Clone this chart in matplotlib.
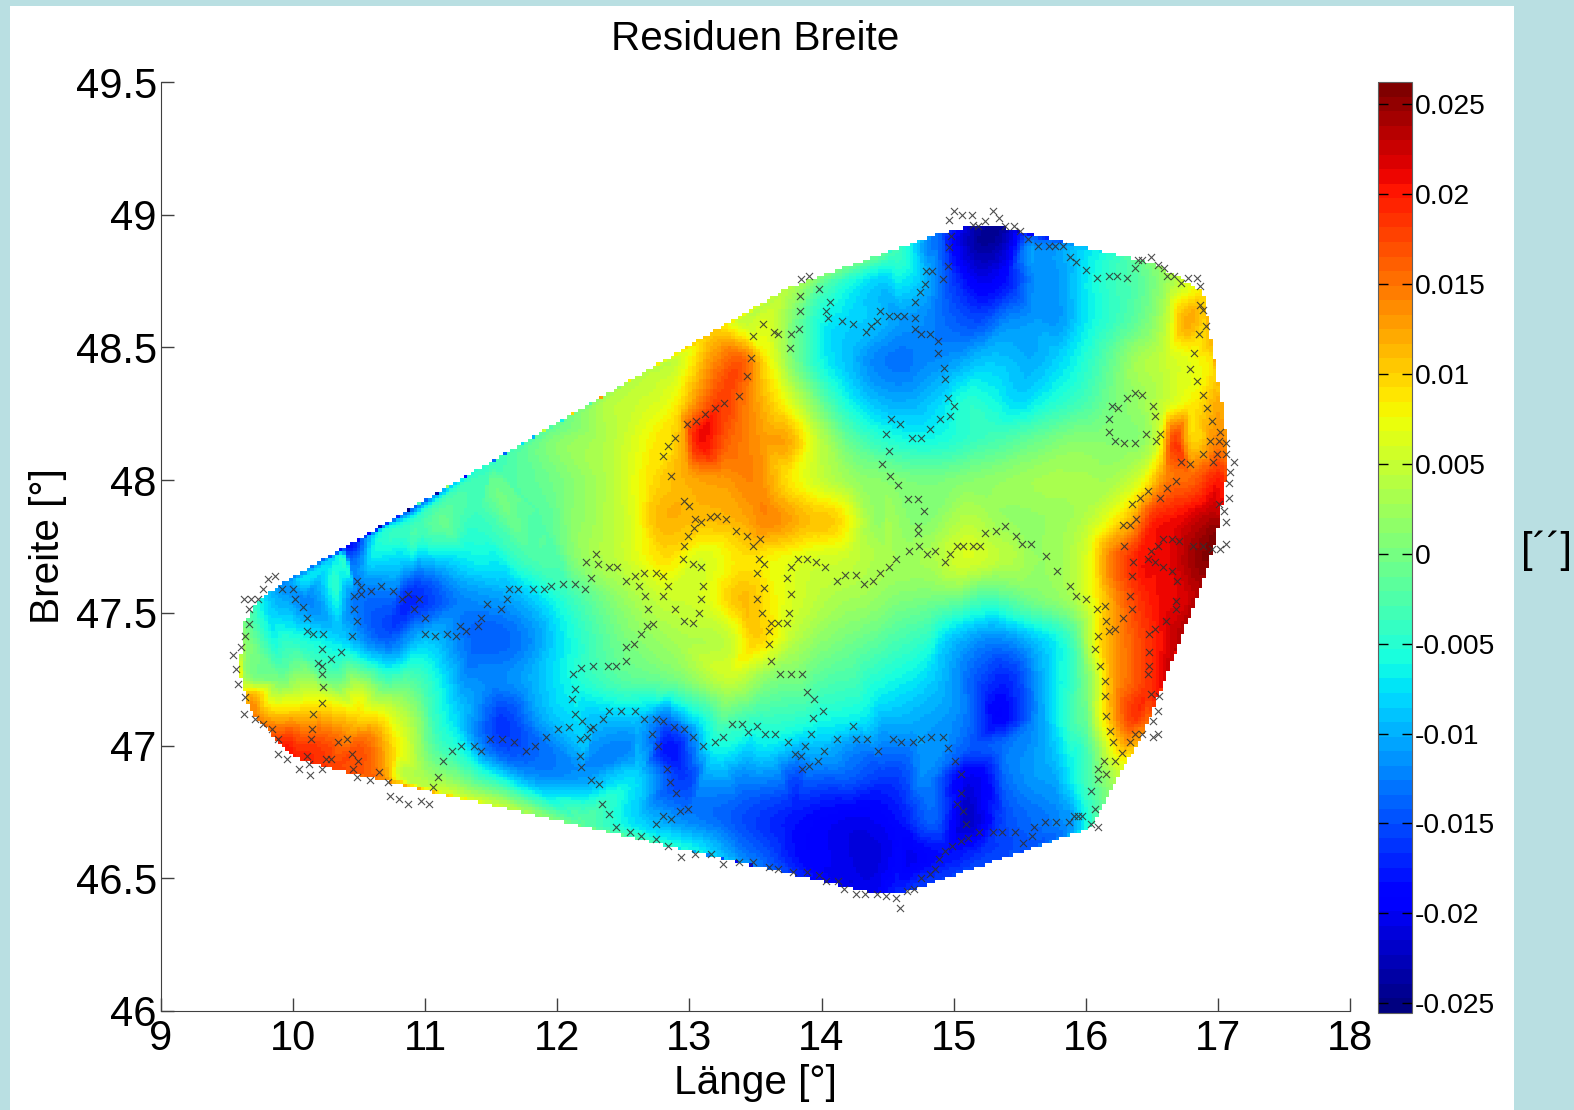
import numpy as np
import matplotlib
matplotlib.use('Agg')
import matplotlib.pyplot as plt
import matplotlib.tri as mtri
from matplotlib.patches import Rectangle

plt.rcParams['font.family'] = ['Liberation Sans', 'DejaVu Sans']

# stations (x marks), lon / lat in degrees
west_lon = [9.865, 9.81, 9.772, 9.918, 9.996, 9.626, 9.679, 9.732, 9.663, 10.014, 10.072, 9.663,
            10.102, 10.102, 10.15, 10.229, 9.636, 9.605, 9.547, 9.568, 9.585, 9.636, 9.626, 9.714,
            9.772, 9.84, 9.888, 9.888, 9.956, 10.044, 10.13, 10.123, 10.102, 10.221, 10.249, 10.287,
            10.133, 10.143, 10.153, 10.221, 10.229, 10.221, 10.221, 10.191, 10.287, 10.365, 10.221, 10.443,
            10.483, 10.463, 10.463, 10.511, 10.511, 10.483, 10.589, 10.668, 10.756, 10.824, 10.872, 10.95,
            10.912, 10.998, 11.001, 11.076, 11.165, 11.233, 11.263, 11.311, 11.399, 11.419, 11.468, 11.574,
            11.622, 11.632, 11.7, 11.818, 11.897, 11.955, 12.043, 12.131, 12.209, 12.257, 12.217, 12.295,
            12.305, 12.391, 12.449, 12.52, 12.588, 12.656, 12.744, 12.802, 12.618, 12.84, 12.666, 12.802,
            12.686, 12.891, 12.724, 12.676, 12.636, 12.578, 12.52, 12.52, 12.442, 12.384, 12.268, 12.179,
            12.121, 12.131, 12.111, 12.131, 12.189, 12.268, 12.247, 12.227, 12.169, 12.091, 12.003, 11.917,
            11.828, 11.76, 11.672, 11.584, 11.488, 11.42, 11.369, 11.273, 11.205, 11.137, 11.097, 11.059,
            11.029, 10.97, 10.872, 10.804, 10.736, 10.718, 10.648, 10.582, 10.483, 10.453, 10.494, 10.443,
            10.405, 10.337]
west_lat = [47.639, 47.629, 47.591, 47.591, 47.591, 47.552, 47.552, 47.552, 47.513, 47.552, 47.523, 47.459,
            47.479, 47.43, 47.42, 47.42, 47.411, 47.372, 47.343, 47.289, 47.232, 47.183, 47.12, 47.1,
            47.081, 47.062, 47.023, 46.969, 46.95, 46.911, 46.891, 46.931, 46.96, 46.911, 46.95, 46.95,
            47.023, 47.062, 47.12, 47.159, 47.222, 47.271, 47.3, 47.31, 47.328, 47.354, 47.364, 47.411,
            47.469, 47.513, 47.562, 47.571, 47.598, 47.62, 47.581, 47.6, 47.581, 47.552, 47.571, 47.552,
            47.513, 47.479, 47.42, 47.411, 47.42, 47.411, 47.45, 47.43, 47.45, 47.479, 47.532, 47.513,
            47.552, 47.591, 47.591, 47.591, 47.591, 47.6, 47.61, 47.61, 47.591, 47.63, 47.693, 47.722,
            47.683, 47.673, 47.673, 47.62, 47.639, 47.649, 47.649, 47.639, 47.6, 47.6, 47.562, 47.562,
            47.513, 47.513, 47.459, 47.45, 47.42, 47.382, 47.372, 47.32, 47.3, 47.3, 47.3, 47.291,
            47.271, 47.213, 47.174, 47.12, 47.091, 47.071, 47.062, 47.033, 47.023, 47.071, 47.062, 47.033,
            46.999, 46.979, 47.013, 47.023, 47.023, 46.979, 46.999, 46.999, 46.979, 46.94, 46.883, 46.844,
            46.781, 46.791, 46.781, 46.8, 46.81, 46.862, 46.901, 46.872, 46.883, 46.911, 46.94, 46.969,
            47.023, 47.013]

south_lon = [12.394, 12.482, 12.588, 12.656, 12.744, 12.802, 12.881, 12.959, 13.03, 12.346, 12.714, 12.765,
             12.833, 12.85, 12.901, 12.987, 12.928, 12.86, 12.802, 12.744, 12.335, 12.394, 12.315, 12.257,
             12.179, 12.169, 12.442, 12.55, 12.636, 12.744, 12.84, 12.939, 13.045, 14.594]
south_lat = [47.129, 47.129, 47.129, 47.1, 47.1, 47.091, 47.071, 47.062, 47.033, 47.1, 47.042, 46.999,
             46.911, 46.862, 46.82, 46.762, 46.752, 46.723, 46.733, 46.704, 46.781, 46.742, 46.854, 46.872,
             46.921, 46.96, 46.694, 46.674, 46.659, 46.649, 46.62, 46.581, 46.591, 46.388]

centre_lon = [12.959, 13.0, 13.039, 13.085, 13.037, 12.989, 12.959, 12.949, 13.027, 13.085, 13.105, 13.085,
              13.075, 13.027, 12.959, 13.156, 13.211, 13.279, 13.35, 13.438, 13.534, 13.484, 13.524, 13.564,
              13.514, 13.564, 13.514, 13.552, 13.62, 13.67, 13.738, 13.602, 13.602, 13.62, 13.688, 13.766,
              13.854, 13.892, 13.943, 14.011, 13.933, 13.923, 13.875, 14.021, 13.796, 13.844, 13.971, 13.902,
              13.854, 13.748, 13.65, 13.572, 13.514, 13.446, 13.398, 13.32, 13.251, 13.191, 13.105, 13.738,
              13.766, 13.756, 13.766, 13.824, 13.892, 13.96, 14.029, 14.117, 14.175, 14.263, 14.321, 14.389,
              14.44, 14.508, 14.566, 14.662, 14.74, 14.798, 14.856, 14.934, 14.972, 15.023, 15.071, 15.149,
              15.197, 15.237, 15.323, 15.391, 15.469, 15.517, 15.585, 15.696, 15.78, 14.733, 14.733, 14.235,
              14.119, 14.263, 14.341, 14.43, 14.538, 14.604, 14.692, 14.75, 14.829, 14.917, 14.955, 15.013,
              15.053, 15.053, 15.023, 15.071, 15.091, 15.189, 15.295, 15.111, 15.053, 14.985, 14.934, 14.886,
              14.856, 14.818, 14.75, 14.702, 14.644, 14.566, 14.488, 14.42, 14.331, 14.263, 14.167, 14.127,
              14.031, 13.981, 13.892, 13.786, 13.67, 13.602, 13.484, 13.378, 13.251, 13.163]
centre_lat = [47.922, 47.903, 47.854, 47.844, 47.819, 47.79, 47.751, 47.703, 47.683, 47.674, 47.602, 47.553,
              47.499, 47.461, 47.471, 47.863, 47.865, 47.854, 47.81, 47.79, 47.78, 47.751, 47.703, 47.683,
              47.649, 47.592, 47.553, 47.499, 47.461, 47.461, 47.461, 47.431, 47.383, 47.32, 47.271, 47.271,
              47.271, 47.203, 47.175, 47.131, 47.102, 47.043, 46.999, 46.98, 46.97, 46.961, 46.941, 46.922,
              46.912, 47.014, 47.043, 47.043, 47.072, 47.053, 47.082, 47.082, 47.034, 47.014, 46.999, 47.63,
              47.571, 47.499, 47.674, 47.703, 47.703, 47.693, 47.674, 47.62, 47.641, 47.641, 47.61, 47.62,
              47.649, 47.674, 47.703, 47.732, 47.751, 47.722, 47.732, 47.693, 47.722, 47.751, 47.751, 47.751,
              47.751, 47.8, 47.81, 47.829, 47.79, 47.761, 47.761, 47.713, 47.659, 47.8, 47.829, 47.072,
              47.024, 47.024, 47.024, 46.98, 47.024, 47.014, 47.014, 47.024, 47.034, 47.034, 46.99, 46.941,
              46.893, 46.82, 46.781, 46.753, 46.704, 46.675, 46.675, 46.65, 46.641, 46.621, 46.602, 46.573,
              46.534, 46.515, 46.5, 46.461, 46.451, 46.427, 46.432, 46.442, 46.442, 46.442, 46.461, 46.49,
              46.49, 46.514, 46.524, 46.524, 46.534, 46.544, 46.563, 46.563, 46.553, 46.592]

north_lon = [14.965, 15.006, 15.064, 15.142, 15.298, 15.346, 15.24, 15.182, 15.15, 15.387, 15.455, 15.505,
             15.561, 14.978, 14.968, 14.958, 14.917, 14.791, 14.839, 14.781, 14.743, 14.705, 14.705, 14.705,
             14.753, 14.821, 14.879, 14.879, 14.927, 14.937, 14.958, 15.005, 14.975, 14.899, 14.821, 14.753,
             14.685, 14.597, 14.529, 14.491, 14.508, 14.46, 14.518, 14.577, 14.655, 14.733, 14.773, 14.627,
             14.569, 14.508, 14.44, 14.423, 14.372, 14.334, 14.236, 14.158, 14.052, 14.031, 14.062, 13.984,
             13.905, 13.847, 13.837, 13.837, 13.827, 13.769, 13.759, 13.671, 13.643, 13.555, 13.484, 13.466,
             13.436, 13.378, 13.262, 13.194, 13.116, 13.047, 12.979, 12.891, 12.84, 12.803, 12.861]
north_lat = [48.979, 49.014, 48.998, 48.998, 49.014, 48.987, 48.977, 48.959, 48.96, 48.959, 48.959, 48.94,
             48.91, 48.92, 48.88, 48.807, 48.759, 48.788, 48.788, 48.739, 48.71, 48.672, 48.609, 48.57,
             48.552, 48.552, 48.523, 48.479, 48.421, 48.382, 48.309, 48.28, 48.241, 48.231, 48.192, 48.159,
             48.159, 48.213, 48.231, 48.174, 48.111, 48.062, 48.014, 47.98, 47.93, 47.93, 47.882, 48.62,
             48.62, 48.62, 48.638, 48.599, 48.581, 48.56, 48.589, 48.599, 48.609, 48.638, 48.672, 48.721,
             48.769, 48.759, 48.692, 48.638, 48.57, 48.552, 48.498, 48.552, 48.56, 48.589, 48.542, 48.459,
             48.391, 48.318, 48.289, 48.27, 48.251, 48.223, 48.213, 48.159, 48.13, 48.091, 48.014]

east_lon = [15.642, 15.725, 15.767, 15.828, 15.883, 15.925, 16.0, 16.088, 16.174, 16.235, 16.312, 16.371,
            16.398, 16.426, 16.495, 16.548, 16.595, 16.614, 16.67, 16.723, 16.77, 16.839, 16.867, 16.867,
            16.889, 16.908, 16.858, 16.82, 16.789, 16.839, 16.889, 16.917, 16.955, 17.014, 16.944, 17.005,
            17.063, 16.889, 16.994, 17.063, 17.122, 16.966, 17.091, 17.083, 17.083, 17.005, 17.044, 17.063,
            17.063, 17.014, 16.955, 16.889, 16.808, 16.723, 16.789, 16.684, 16.614, 16.565, 16.468, 16.409,
            16.351, 16.379, 16.337, 16.285, 16.293, 16.36, 16.351, 16.332, 16.351, 16.285, 16.221, 16.174,
            16.155, 16.146, 16.088, 16.0, 15.925, 15.883, 16.096, 16.069, 16.107, 16.146, 16.146, 16.476,
            16.526, 16.606, 16.684, 16.684, 16.476, 16.476, 16.468, 16.495, 16.556, 16.468, 16.495, 16.545,
            16.584, 16.653, 16.703, 16.526, 16.584, 16.653, 16.692, 16.177, 16.177, 16.224, 16.293, 16.371,
            16.457, 16.529, 16.565, 16.526, 16.506, 16.429, 16.371, 16.312, 16.243, 16.196]
east_lat = [48.883, 48.883, 48.883, 48.883, 48.842, 48.82, 48.79, 48.761, 48.77, 48.77, 48.761, 48.8,
            48.829, 48.829, 48.842, 48.81, 48.8, 48.77, 48.77, 48.741, 48.761, 48.761, 48.732, 48.659,
            48.64, 48.581, 48.552, 48.479, 48.42, 48.373, 48.319, 48.271, 48.222, 48.183, 48.149, 48.149,
            48.139, 48.1, 48.1, 48.1, 48.07, 48.07, 48.032, 47.99, 47.931, 47.912, 47.883, 47.844,
            47.761, 47.742, 47.742, 47.751, 47.751, 48.07, 48.061, 47.998, 47.97, 47.931, 47.96, 47.931,
            47.912, 47.853, 47.83, 47.83, 47.751, 47.693, 47.639, 47.563, 47.514, 47.48, 47.441, 47.431,
            47.47, 47.524, 47.514, 47.553, 47.563, 47.602, 47.412, 47.363, 47.3, 47.242, 47.185, 47.422,
            47.441, 47.47, 47.514, 47.543, 47.354, 47.3, 47.271, 47.193, 47.185, 47.703, 47.732, 47.751,
            47.78, 47.78, 47.771, 47.693, 47.674, 47.659, 47.62, 48.232, 48.183, 48.149, 48.139, 48.139,
            48.173, 48.149, 48.173, 48.241, 48.28, 48.319, 48.329, 48.309, 48.271, 48.28]

southeast_lon = [16.156, 16.186, 16.206, 16.333, 16.37, 16.428, 16.545, 16.507, 16.507, 16.545, 16.272, 16.224,
                 16.136, 16.095, 16.156, 16.095, 16.04, 16.068, 15.972, 15.914, 15.944, 15.873, 15.777, 15.689,
                 15.611, 15.591, 15.523, 15.465, 15.369, 16.037, 16.095]
southeast_lat = [47.111, 47.054, 47.015, 47.015, 47.044, 47.044, 47.13, 47.092, 47.033, 47.044, 46.971, 46.942,
                 46.942, 46.913, 46.893, 46.874, 46.83, 46.762, 46.733, 46.733, 46.733, 46.713, 46.713, 46.713,
                 46.694, 46.66, 46.632, 46.674, 46.674, 46.704, 46.694]

# residuals: outline of the covered area
edge_lon = [9.593, 9.623, 9.737, 9.938, 10.4, 10.9, 11.011, 11.5, 12.0, 12.626, 13.2, 13.736, 13.989, 14.594, 14.897,
            15.124, 15.376, 15.629, 15.988, 16.293, 16.515, 16.889, 16.944, 17.041, 17.083, 17.041, 16.986, 16.875,
            16.681, 16.57, 16.449, 16.234, 16.095, 16.032, 15.894, 15.401, 14.568, 14.392, 13.534, 13.045, 12.2, 11.6,
            11.213, 10.708, 10.279, 10.0, 9.863, 9.673]
edge_lat = [47.272, 47.46, 47.548, 47.617, 47.75, 47.893, 47.925, 48.067, 48.21, 48.396, 48.565, 48.722, 48.769, 48.873, 48.93,
            48.955, 48.952, 48.911, 48.868, 48.83, 48.817, 48.711, 48.516, 48.252, 48.101, 47.938, 47.775, 47.599,
            47.398, 47.219, 47.059, 46.883, 46.763, 46.688, 46.682, 46.581, 46.437, 46.444, 46.557, 46.6, 46.698, 46.768,
            46.813, 46.876, 46.914, 46.958, 47.027, 47.134]
edge_val = [0.009, 0.0, -0.005, -0.012, -0.019, -0.014, -0.012, -0.004, -0.001, 0.004, 0.01, 0.004, 0.001, -0.004, -0.014,
            -0.022, -0.024, -0.014, -0.008, -0.003, 0.001, 0.009, 0.011, 0.012, 0.014, 0.02, 0.026, 0.024,
            0.023, 0.021, 0.014, 0.004, -0.002, -0.004, -0.011, -0.015, -0.017, -0.02, -0.013, -0.006, -0.002, 0.005,
            0.006, 0.013, 0.018, 0.02, 0.018, 0.014]

# residuals inside the area, one list per latitude
row_lat = [48.9, 48.75, 48.6, 48.45, 48.3, 48.15, 48.0, 47.9, 47.85, 47.8, 47.72, 47.7, 47.62, 47.55, 47.4, 47.25, 47.18, 47.1, 47.0, 46.88, 46.72, 46.58]
row_lon = [
    [14.8, 15.0, 15.2, 15.4, 15.6],
    [14.0, 14.4, 14.8, 15.0, 15.2, 15.4, 15.6, 15.8, 16.0, 16.2, 16.4, 16.6],
    [13.4, 13.6, 13.8, 14.0, 14.2, 14.4, 14.6, 14.8, 15.0, 15.2, 15.4, 15.6, 15.8, 16.0, 16.2, 16.4, 16.6, 16.75, 16.9],
    [12.9, 13.2, 13.4, 13.6, 13.8, 14.0, 14.2, 14.4, 14.6, 14.8, 15.0, 15.2, 15.4, 15.6, 15.8, 16.0, 16.2, 16.4, 16.6, 16.8, 16.95],
    [12.4, 12.6, 12.9, 13.1, 13.25, 13.45, 13.7, 13.9, 14.1, 14.3, 14.5, 14.7, 14.9, 15.1, 15.3, 15.5, 15.7, 16.0, 16.2, 16.4, 16.6, 16.8, 17.0],
    [12.0, 12.4, 12.7, 12.95, 13.05, 13.3, 13.55, 13.75, 14.0, 14.25, 14.5, 14.8, 15.0, 15.3, 15.6, 15.9, 16.1, 16.25, 16.45, 16.55, 16.67, 16.8, 17.0],
    [11.5, 12.0, 12.4, 12.7, 13.0, 13.25, 13.5, 13.75, 14.0, 14.25, 14.5, 14.8, 15.1, 15.4, 15.7, 16.0, 16.2, 16.4, 16.6, 16.8, 17.0],
    [11.05],
    [10.9, 11.4, 11.9, 12.3, 12.55, 12.75, 13.1, 13.4, 13.6, 13.9, 14.1, 14.4, 14.8, 15.1, 15.4, 15.7, 16.0, 16.2, 16.35, 16.5, 16.7, 16.95],
    [10.65],
    [10.35],
    [10.3, 10.8, 11.3, 11.8, 12.2, 12.5, 12.8, 13.1, 13.4, 13.6, 13.9, 14.2, 14.5, 14.8, 15.1, 15.4, 15.7, 16.0, 16.2, 16.4, 16.6, 16.85],
    [10.05],
    [9.8, 10.1, 10.5, 10.9, 11.3, 11.7, 12.1, 12.5, 12.8, 13.1, 13.4, 13.7, 14.0, 14.4, 14.8, 15.2, 15.6, 15.9, 16.1, 16.3, 16.5, 16.75],
    [9.65, 10.0, 10.35, 10.7, 11.0, 11.4, 11.7, 12.1, 12.5, 12.9, 13.3, 13.5, 13.8, 14.2, 14.6, 15.0, 15.3, 15.6, 15.9, 16.1, 16.3, 16.55],
    [9.62, 9.9, 10.3, 10.7, 11.0, 11.5, 11.8, 12.1, 12.5, 12.9, 13.3, 13.6, 14.0, 14.4, 14.8, 15.2, 15.4, 15.7, 16.0, 16.2, 16.35, 16.5],
    [9.67, 10.0, 10.2, 10.5, 10.8],
    [9.75, 10.1, 10.5, 10.9, 11.2, 11.6, 11.9, 12.3, 12.6, 12.8, 13.1, 13.5, 13.9, 14.3, 14.7, 15.1, 15.35, 15.65, 15.9, 16.15, 16.35],
    [9.95, 10.2, 10.55, 10.8, 11.1, 11.5, 11.9, 12.2, 12.55, 12.85, 13.2, 13.6, 13.95, 14.3, 14.7, 15.1, 15.4, 15.75, 16.0, 16.2],
    [10.8, 11.0, 11.4, 11.8, 12.2, 12.6, 12.95, 13.4, 13.8, 14.2, 14.5, 14.8, 15.1, 15.5, 15.85, 16.1],
    [12.2, 12.6, 13.0, 13.4, 13.8, 14.2, 14.6, 14.85, 15.1, 15.4, 15.8],
    [13.4, 13.8, 14.1, 14.4, 14.7, 14.95, 15.2],
]
row_val = [
    [-0.012, -0.019, -0.024, -0.022, -0.012],
    [-0.001, -0.008, -0.01, -0.016, -0.02, -0.018, -0.012, -0.011, -0.007, -0.004, -0.002, 0.002],
    [0.005, 0.006, 0.0, -0.006, -0.008, -0.009, -0.011, -0.012, -0.014, -0.015, -0.012, -0.011, -0.011, -0.007, -0.004, -0.001, 0.004, 0.012, 0.01],
    [0.005, 0.014, 0.016, 0.008, 0.0, -0.006, -0.009, -0.012, -0.013, -0.012, -0.011, -0.009, -0.009, -0.01, -0.008, -0.005, -0.001, 0.003, 0.005, 0.007, 0.009],
    [0.004, 0.005, 0.008, 0.015, 0.018, 0.014, 0.008, 0.002, -0.004, -0.008, -0.01, -0.01, -0.008, -0.005, -0.006, -0.008, -0.006, -0.003, 0.0, 0.002, 0.005, 0.008, 0.012],
    [0.001, 0.004, 0.008, 0.012, 0.02, 0.016, 0.013, 0.012, 0.004, -0.002, -0.005, -0.006, -0.005, -0.003, -0.001, 0.001, 0.001, 0.001, 0.002, 0.006, 0.018, 0.01, 0.014],
    [-0.001, 0.0, 0.004, 0.009, 0.012, 0.013, 0.014, 0.009, 0.005, 0.002, 0.001, 0.0, 0.001, 0.002, 0.003, 0.003, 0.003, 0.006, 0.014, 0.016, 0.02],
    [-0.004],
    [-0.005, -0.004, -0.002, 0.003, 0.006, 0.011, 0.011, 0.012, 0.014, 0.011, 0.01, 0.002, 0.001, 0.004, 0.002, 0.002, 0.004, 0.008, 0.012, 0.019, 0.021, 0.024],
    [-0.006],
    [-0.007],
    [-0.008, -0.008, -0.007, -0.003, 0.002, 0.005, 0.009, 0.006, 0.009, 0.008, 0.006, 0.005, 0.003, 0.003, 0.006, 0.004, 0.002, 0.006, 0.015, 0.02, 0.021, 0.025],
    [-0.008],
    [-0.008, -0.012, -0.013, -0.017, -0.012, -0.01, -0.004, 0.002, 0.005, 0.006, 0.011, 0.007, 0.004, 0.002, 0.0, -0.003, 0.0, 0.003, 0.009, 0.016, 0.02, 0.022],
    [0.001, -0.005, -0.008, -0.014, -0.009, -0.014, -0.013, -0.006, 0.0, 0.003, 0.005, 0.01, 0.004, 0.0, -0.003, -0.009, -0.012, -0.009, -0.003, 0.009, 0.015, 0.02],
    [0.004, 0.0, -0.001, -0.003, -0.004, -0.012, -0.01, -0.006, -0.002, 0.0, 0.005, 0.001, -0.002, -0.005, -0.008, -0.015, -0.017, -0.009, 0.0, 0.012, 0.016, 0.019],
    [0.013, 0.006, 0.007, 0.007, 0.002],
    [0.014, 0.012, 0.01, 0.003, -0.007, -0.016, -0.01, -0.009, -0.009, -0.013, -0.006, -0.004, -0.005, -0.007, -0.01, -0.013, -0.019, -0.011, -0.003, 0.009, 0.018],
    [0.02, 0.018, 0.016, 0.008, -0.003, -0.014, -0.013, -0.009, -0.012, -0.018, -0.006, -0.007, -0.009, -0.012, -0.012, -0.014, -0.013, -0.009, -0.003, 0.008],
    [0.006, 0.003, -0.003, -0.011, -0.011, -0.008, -0.016, -0.012, -0.015, -0.014, -0.016, -0.012, -0.02, -0.012, -0.008, 0.0],
    [-0.002, -0.008, -0.012, -0.015, -0.018, -0.02, -0.018, -0.014, -0.022, -0.015, -0.012],
    [-0.012, -0.018, -0.02, -0.021, -0.02, -0.018, -0.016],
]

xticks = [9, 10, 11, 12, 13, 14, 15, 16, 17, 18]
yticks = [46, 46.5, 47, 47.5, 48, 48.5, 49, 49.5]
ylabels = ['46', '46.5', '47', '47.5', '48', '48.5', '49', '49.5']
cticks = [-0.025, -0.02, -0.015, -0.01, -0.005, 0, 0.005, 0.01, 0.015, 0.02, 0.025]
clabels = ['-0.025', '-0.02', '-0.015', '-0.01', '-0.005', '0', '0.005', '0.01', '0.015', '0.02', '0.025']

cross_lon = np.concatenate([west_lon, south_lon, centre_lon, north_lon, east_lon, southeast_lon])
cross_lat = np.concatenate([west_lat, south_lat, centre_lat, north_lat, east_lat, southeast_lat])

pts_lon = list(edge_lon)
pts_lat = list(edge_lat)
pts_val = list(edge_val)
for la, lons, vals in zip(row_lat, row_lon, row_val):
    pts_lon += lons
    pts_lat += [la] * len(lons)
    pts_val += vals

W, H = 1574, 1110
fig = plt.figure(figsize=(W / 100, H / 100), dpi=100, facecolor='#b9dfe2')
fig.add_artist(Rectangle((10 / W, 0), 1504 / W, 1104 / H, transform=fig.transFigure, fc='white', ec='none', zorder=-5))

ax = fig.add_axes([161 / W, (H - 1011) / H, 1189 / W, 929 / H])
ax.patch.set_alpha(0)

# same blocky grid as the original gridded surface
tri = mtri.Triangulation(pts_lon, pts_lat)
interp = mtri.CubicTriInterpolator(tri, pts_val, kind='geom')
gx, gy = np.meshgrid(np.arange(9.55, 17.15, 0.027), np.arange(46.4, 49.0, 0.0125))
gz = interp(gx, gy)
cmap = plt.get_cmap('jet', 64)
mesh = ax.pcolormesh(gx, gy, gz, cmap=cmap, vmin=-0.02554, vmax=0.02624, shading='nearest')

ax.scatter(cross_lon, cross_lat, marker='x', s=26, c='#303030', linewidths=0.8, alpha=0.85, zorder=3)

ax.set_xlim(9, 18)
ax.set_ylim(46, 49.5)
ax.set_xticks(xticks)
ax.set_yticks(yticks)
ax.set_yticklabels(ylabels)
ax.spines['top'].set_visible(False)
ax.spines['right'].set_visible(False)
for s in ['left', 'bottom']:
    ax.spines[s].set_color('#404040')
ax.tick_params(direction='in', length=9.4, width=1, color='#404040', labelsize=30)
ax.tick_params(axis='x', pad=6)
ax.tick_params(axis='y', pad=3)
ax.set_title('Residuen Breite', fontsize=29.2, pad=23, x=0.5)
ax.set_xlabel('Länge [°]', fontsize=29.2, labelpad=3)
ax.set_ylabel('Breite [°]', fontsize=29.2, labelpad=6)

cax = fig.add_axes([1378 / W, (H - 1013) / H, 34 / W, 931 / H])
cb = fig.colorbar(mesh, cax=cax)
cb.set_ticks(cticks)
cb.set_ticklabels(clabels)
cax.tick_params(direction='in', length=7.5, width=1, left=True, right=True, labelsize=20.3, pad=2)
cb.outline.set_edgecolor('#606060')
fig.text(1546 / W, (H - 551) / H, '[´´]', fontsize=30, ha='center', va='center')

fig.savefig('out.png', dpi=100, facecolor=fig.get_facecolor())
